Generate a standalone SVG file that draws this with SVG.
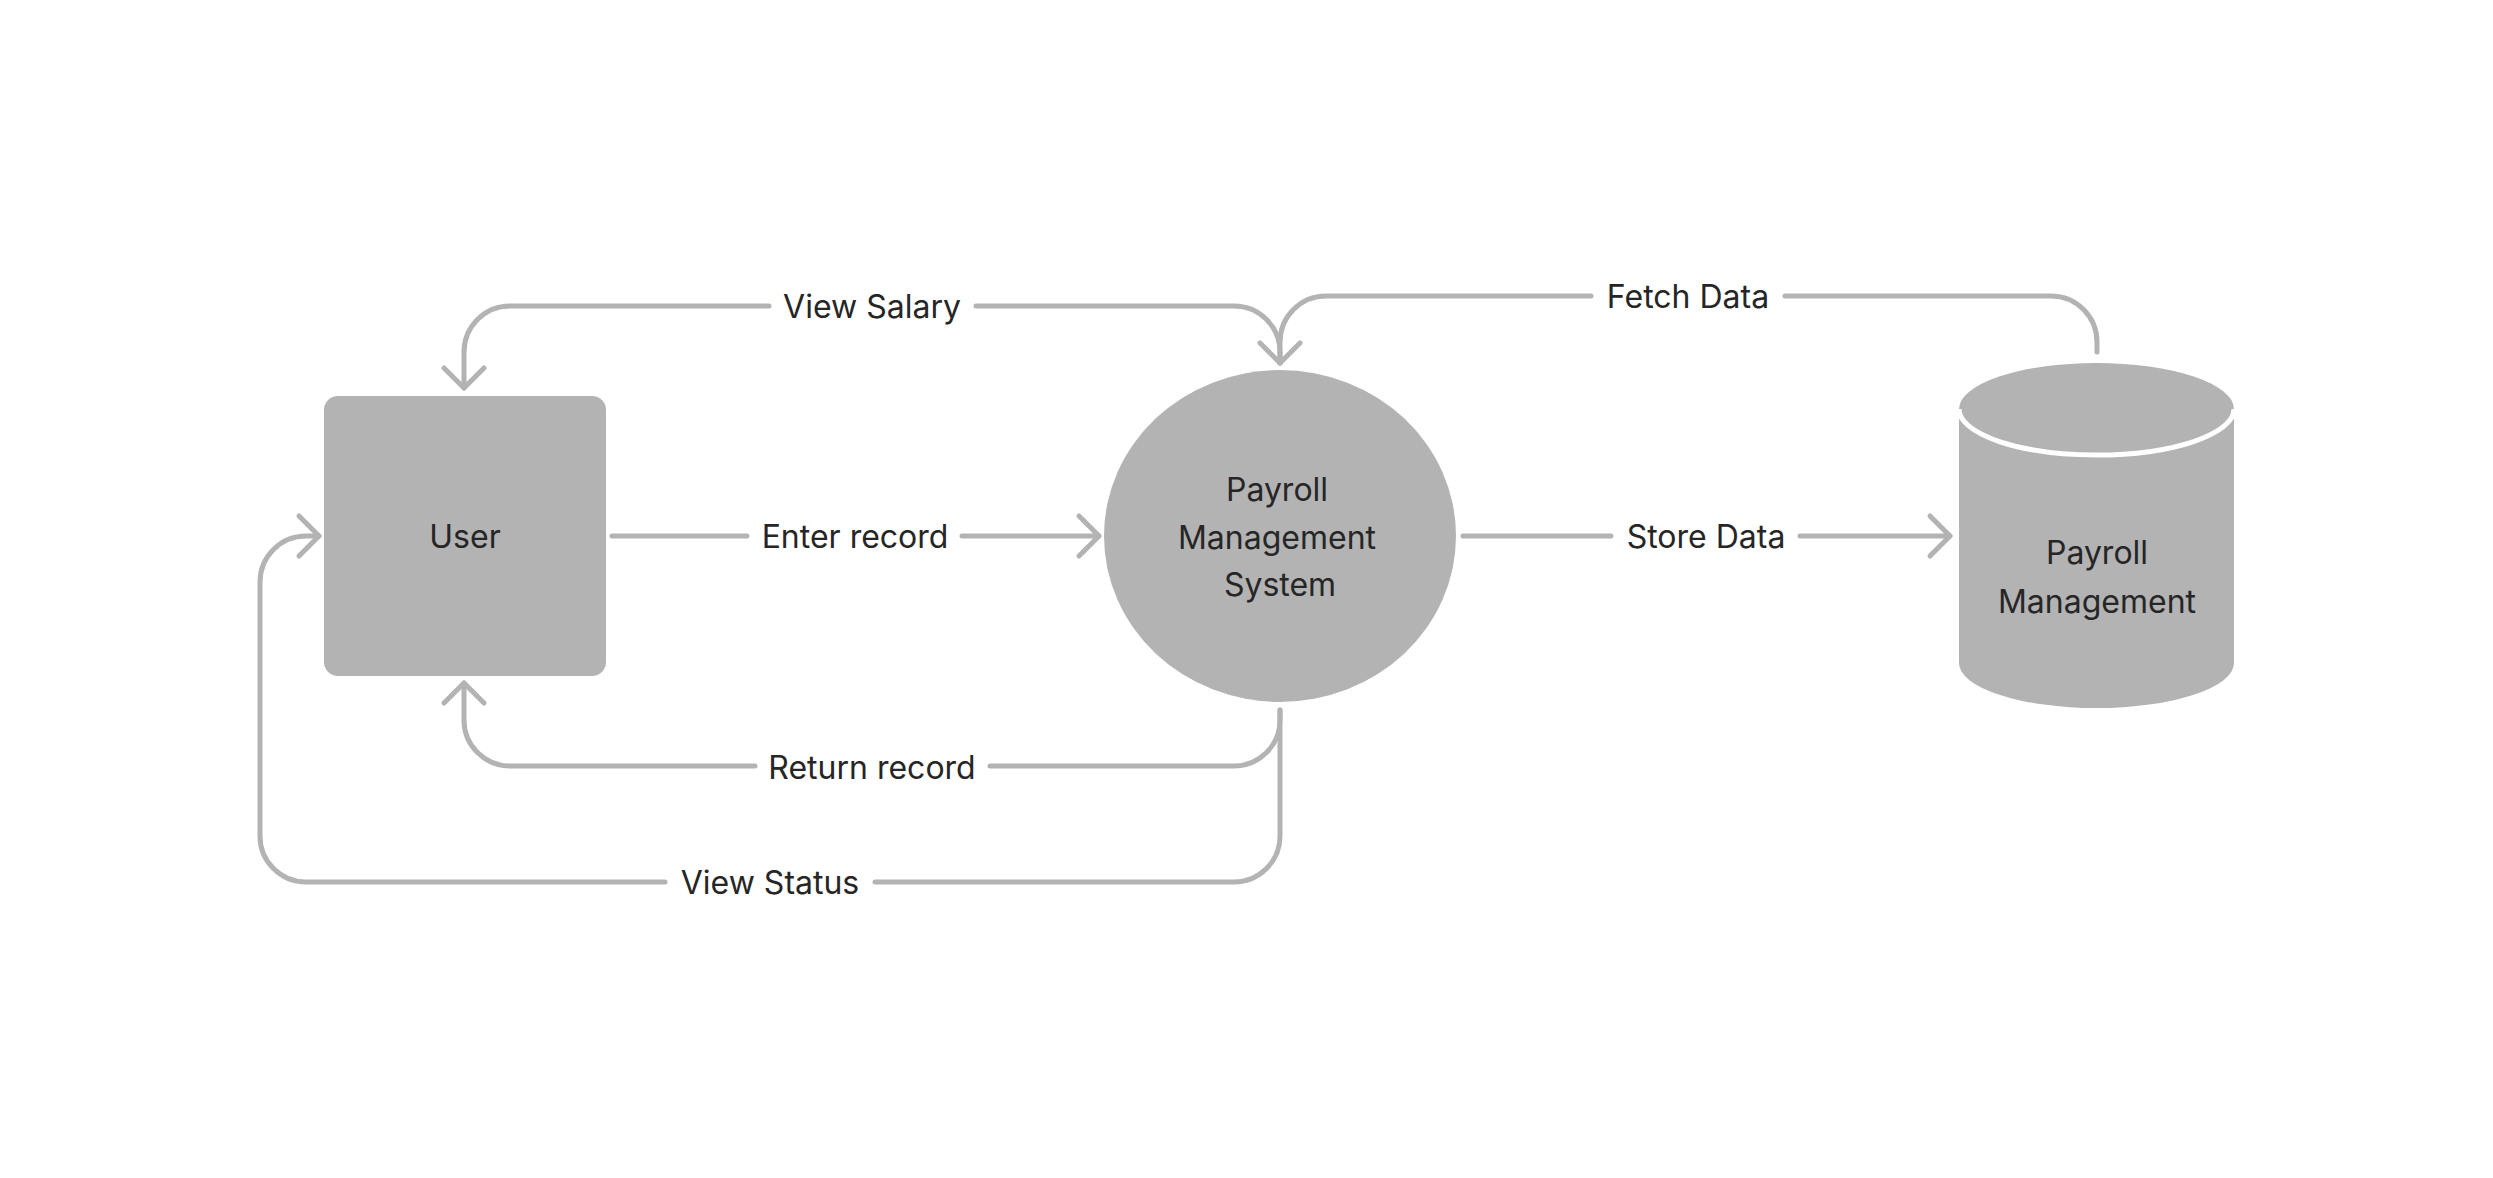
<svg xmlns="http://www.w3.org/2000/svg" width="2493" height="1178" viewBox="0 0 2493 1178">
<style>
.node{fill:#b3b3b3;}
.txt{font-family:Inter,"Noto Sans","Liberation Sans",sans-serif;font-size:32px;fill:#262626;text-anchor:middle;}
.ln{fill:none;stroke:#b3b3b3;stroke-width:5;stroke-linecap:round;stroke-linejoin:round;}
</style>
<defs>
<marker id="arr" markerUnits="userSpaceOnUse" orient="auto" refX="0" refY="0" markerWidth="40" markerHeight="60" viewBox="-30 -30 40 60" overflow="visible">
<path d="M-20,-20 L0,0 L-20,20" fill="none" stroke="#b3b3b3" stroke-width="5" stroke-linecap="round" stroke-linejoin="round"/>
</marker>
</defs>
<rect width="2493" height="1178" fill="#ffffff"/>
<g id="connectors">
<path class="ln" d="M612,536 H747"/>
<path class="ln" d="M962,536 H1099" marker-end="url(#arr)"/>
<path class="ln" d="M1463,536 H1611"/>
<path class="ln" d="M1800,536 H1950" marker-end="url(#arr)"/>
<path class="ln" d="M1280,363 V352 A46,46 0 0 0 1234,306 H976"/>
<path class="ln" d="M769,306 H510 A46,46 0 0 0 464,352 V388" marker-end="url(#arr)"/>
<path class="ln" d="M2097,352 V342 A46,46 0 0 0 2051,296 H1785"/>
<path class="ln" d="M1591,296 H1326 A46,46 0 0 0 1280,342 V363" marker-end="url(#arr)"/>
<path class="ln" d="M1280,710 V720 A46,46 0 0 1 1234,766 H990"/>
<path class="ln" d="M755,766 H510 A46,46 0 0 1 464,720 V683" marker-end="url(#arr)"/>
<path class="ln" d="M1280,710 V836 A46,46 0 0 1 1234,882 H875"/>
<path class="ln" d="M665,882 H306 A46,46 0 0 1 260,836 V582 A46,46 0 0 1 306,536 H319" marker-end="url(#arr)"/>
<g id="labels">
<text class="txt" x="872" y="318">View Salary</text>
<text class="txt" x="855" y="548">Enter record</text>
<text class="txt" x="1688" y="308">Fetch Data</text>
<text class="txt" x="1706" y="548">Store Data</text>
<text class="txt" x="872" y="779">Return record</text>
<text class="txt" x="770" y="894">View Status</text>
</g>
</g>
<g id="user">
<rect class="node" x="324" y="396" width="282" height="280" rx="14"/>
<text class="txt" x="465" y="548">User</text>
</g>
<g id="process">
<ellipse class="node" cx="1280" cy="536" rx="176" ry="166"/>
<text class="txt" x="1277" y="501">Payroll</text>
<text class="txt" x="1277" y="549">Management</text>
<text class="txt" x="1280" y="596">System</text>
</g>
<g id="datastore">
<path class="node" d="M1959,409 V663 A137.5,45 0 0 0 2234,663 V409 Z"/>
<ellipse class="node" cx="2096.5" cy="409" rx="137.5" ry="46"/>
<path d="M1959,409 A137.5,46 0 0 0 2234,409" fill="none" stroke="#ffffff" stroke-width="5"/>
<text class="txt" x="2097" y="564">Payroll</text>
<text class="txt" x="2097" y="613">Management</text>
</g>
</svg>
